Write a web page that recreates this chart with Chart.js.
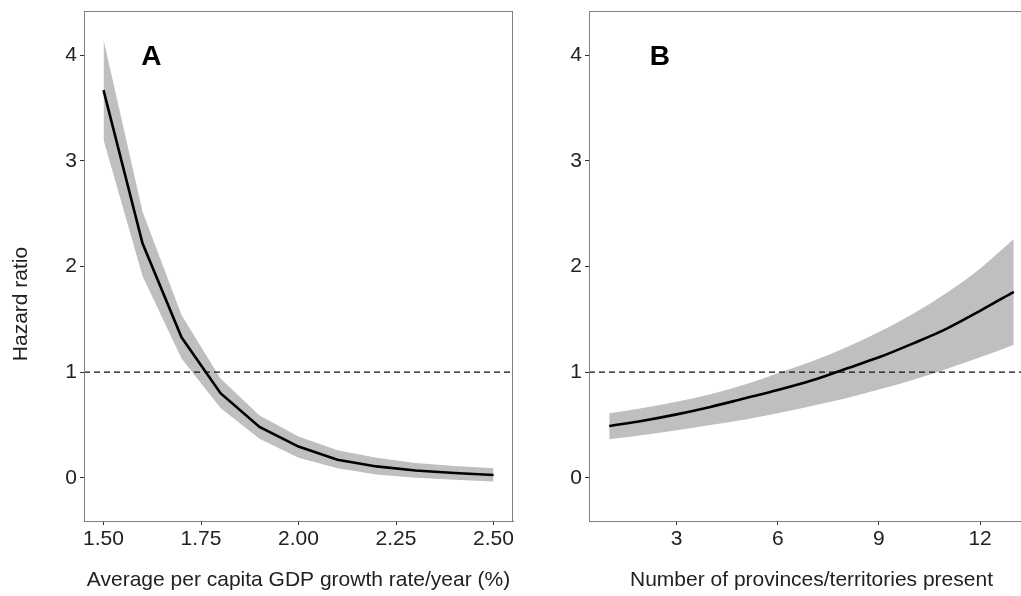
<!DOCTYPE html>
<html>
<head>
<meta charset="utf-8">
<script src="https://cdn.jsdelivr.net/npm/chart.js@4.4.0/dist/chart.umd.min.js"></script>
<style>
  html, body { margin: 0; padding: 0; background: #fff; overflow: hidden; }
  #wrap { position: relative; width: 1021px; height: 596px; overflow: hidden; }
  #chartA { position: absolute; left: 0; top: 0; }
  #chartB { position: absolute; left: 530px; top: 0; }
</style>
</head>
<body>
<div id="wrap">
  <canvas id="chartA" width="530" height="596"></canvas>
  <canvas id="chartB" width="510" height="596"></canvas>
</div>
<script>
// panel A: GDP growth
const gdpX = [1.5, 1.6, 1.7, 1.8, 1.9, 2.0, 2.1, 2.2, 2.3, 2.4, 2.5];
const gdpHR = [3.67, 2.22, 1.33, 0.80, 0.48, 0.295, 0.17, 0.107, 0.069, 0.044, 0.025];
const gdpUpper = [4.15, 2.52, 1.54, 0.94, 0.59, 0.39, 0.26, 0.19, 0.14, 0.11, 0.09];
const gdpLower = [3.20, 1.91, 1.13, 0.66, 0.37, 0.19, 0.09, 0.03, 0.0, -0.02, -0.035];
const gdpTicks = [1.5, 1.75, 2.0, 2.25, 2.5];

// panel B: provinces/territories
const provX = [1, 2, 3, 4, 5, 6, 7, 8, 9, 10, 11, 12, 13];
const provHR = [0.49, 0.54, 0.60, 0.67, 0.75, 0.83, 0.92, 1.03, 1.14, 1.27, 1.41, 1.58, 1.76];
const provUpper = [0.61, 0.66, 0.72, 0.79, 0.88, 0.99, 1.10, 1.23, 1.38, 1.55, 1.75, 1.98, 2.26];
const provLower = [0.365, 0.405, 0.45, 0.50, 0.55, 0.61, 0.68, 0.75, 0.835, 0.925, 1.03, 1.14, 1.26];
const provTicks = [3, 6, 9, 12];

const yTicks = [0, 1, 2, 3, 4];
const refLine = 1;

const FONT = "'Liberation Sans', Arial, sans-serif";
const TXT = '#222';

const pts = (xs, ys) => xs.map((x, i) => ({ x: x, y: ys[i] }));

// box round the plot + panel letter + y title
const extras = {
  id: 'extras',
  afterDraw(chart, args, opts) {
    const { ctx, chartArea: a, scales } = chart;
    ctx.save();
    ctx.strokeStyle = '#7f7f7f';
    ctx.lineWidth = 1;
    ctx.strokeRect(a.left + 0.5, a.top + 0.5, a.right - a.left - 1, a.bottom - a.top);
    ctx.fillStyle = '#000';
    ctx.font = 'bold 28px ' + FONT;
    ctx.textAlign = 'center';
    ctx.textBaseline = 'middle';
    ctx.fillText(opts.letter, scales.x.getPixelForValue(opts.letterX), scales.y.getPixelForValue(opts.letterY));
    if (opts.yTitle) {
      ctx.translate(21, 304);
      ctx.rotate(-Math.PI / 2);
      ctx.font = '21px ' + FONT;
      ctx.fillStyle = TXT;
      ctx.fillText(opts.yTitle, 0, 0);
    }
    ctx.restore();
  }
};

function panel(id, xs, hr, lo, hi, xMin, xMax, xTicks, fmt, xTitle, yWidth, padRight, smooth, extraOpts) {
  const curve = smooth ? 'monotone' : 'default';
  return new Chart(document.getElementById(id), {
    type: 'line',
    data: {
      datasets: [
        { data: pts(xs, hr), borderColor: '#000', borderWidth: 2.6, pointRadius: 0, fill: false, cubicInterpolationMode: curve },
        { data: [{ x: xMin, y: refLine }, { x: xMax, y: refLine }], borderColor: '#111', borderWidth: 1.3, borderDash: [6, 4], pointRadius: 0, fill: false },
        { data: pts(xs, hi), borderWidth: 0, borderColor: 'rgba(0,0,0,0)', pointRadius: 0, backgroundColor: '#bfbfbf', fill: '+1', cubicInterpolationMode: curve },
        { data: pts(xs, lo), borderWidth: 0, borderColor: 'rgba(0,0,0,0)', pointRadius: 0, fill: false, cubicInterpolationMode: curve }
      ]
    },
    options: {
      responsive: false,
      animation: false,
      layout: { padding: { top: 11, right: padRight, left: 0, bottom: 0 } },
      plugins: { legend: { display: false }, tooltip: { enabled: false }, extras: extraOpts },
      scales: {
        x: {
          type: 'linear',
          min: xMin,
          max: xMax,
          afterBuildTicks: s => { s.ticks = xTicks.map(v => ({ value: v })); },
          afterFit: s => { s.height = 75; s.paddingLeft = 0; s.paddingRight = 0; },
          grid: { drawOnChartArea: false, drawTicks: true, tickLength: 4, tickColor: '#333' },
          border: { display: true, color: '#7f7f7f' },
          ticks: { color: TXT, font: { family: FONT, size: 21 }, padding: 2, maxRotation: 0, callback: fmt },
          title: { display: true, text: xTitle, color: TXT, font: { family: FONT, size: 21 }, padding: { top: 0, bottom: 3 } }
        },
        y: {
          min: -0.41,
          max: 4.42,
          afterBuildTicks: s => { s.ticks = yTicks.map(v => ({ value: v })); },
          afterFit: s => { s.width = yWidth; s.paddingTop = 0; s.paddingBottom = 0; },
          grid: { drawOnChartArea: false, drawTicks: true, tickLength: 4, tickColor: '#333' },
          border: { display: true, color: '#7f7f7f' },
          ticks: { color: TXT, font: { family: FONT, size: 21 }, padding: 3, callback: v => String(v) }
        }
      }
    },
    plugins: [extras]
  });
}

panel('chartA', gdpX, gdpHR, gdpLower, gdpUpper, 1.45, 2.55, gdpTicks, v => v.toFixed(2),
  'Average per capita GDP growth rate/year (%)', 84, 17, false,
  { letter: 'A', letterX: 1.623, letterY: 3.98, yTitle: 'Hazard ratio' });

panel('chartB', provX, provHR, provLower, provUpper, 0.4, 13.6, provTicks, v => String(v),
  'Number of provinces/territories present', 59, 6, true,
  { letter: 'B', letterX: 2.5, letterY: 3.98, yTitle: '' });
</script>
</body>
</html>
